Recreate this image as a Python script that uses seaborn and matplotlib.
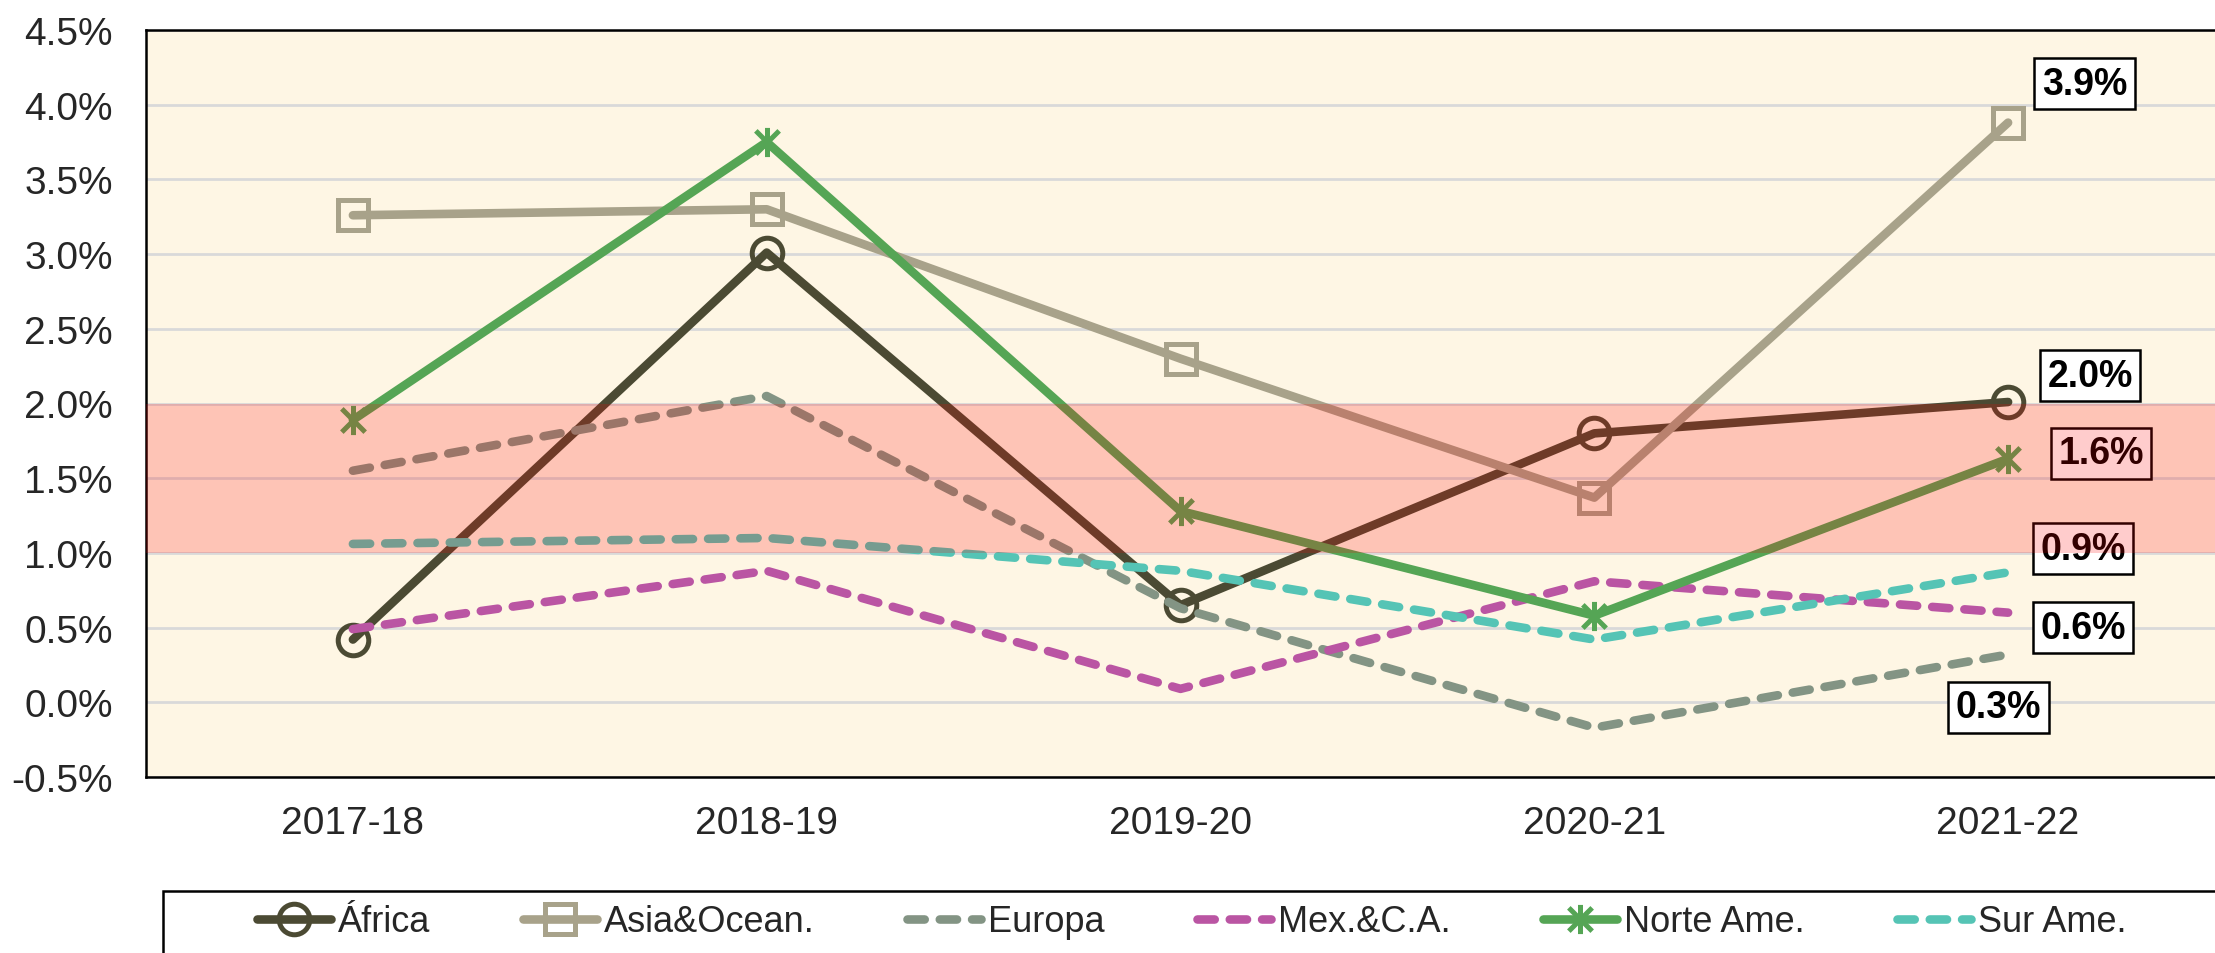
import matplotlib
matplotlib.use('Agg')
import matplotlib.pyplot as plt
import seaborn as sns
from matplotlib.path import Path
from matplotlib.patches import Rectangle
from matplotlib.ticker import FuncFormatter, MultipleLocator

# data (growth, %)
periods = ['2017-18', '2018-19', '2019-20', '2020-21', '2021-22']
africa = [0.42, 3.01, 0.65, 1.80, 2.01]
asia_ocean = [3.26, 3.30, 2.30, 1.37, 3.88]
europa = [1.55, 2.05, 0.63, -0.17, 0.32]
mex_ca = [0.49, 0.88, 0.09, 0.81, 0.60]
norte_ame = [1.89, 3.75, 1.28, 0.58, 1.63]
sur_ame = [1.06, 1.10, 0.88, 0.42, 0.87]
labels = ['África', 'Asia&Ocean.', 'Europa', 'Mex.&C.A.', 'Norte Ame.', 'Sur Ame.']
band_low, band_high = 1.0, 2.0

sns.set_style('white')
plt.rcParams['font.family'] = ['Liberation Sans', 'DejaVu Sans']

# excel-like "star" marker: an X with a vertical bar
star = Path([(-1, -1), (1, 1), (-1, 1), (1, -1), (0, -1.25), (0, 1.25)],
            [Path.MOVETO, Path.LINETO, Path.MOVETO, Path.LINETO, Path.MOVETO, Path.LINETO])

dash = (0, (2.0, 1.75))
series = [
    (africa, '#4B4A33', 'o', '-', 22),
    (asia_ocean, '#A8A28A', 's', '-', 21),
    (europa, '#839484', None, dash, 0),
    (mex_ca, '#BA55A3', None, dash, 0),
    (norte_ame, '#55A555', star, '-', 21),
    (sur_ame, '#55C4B5', None, dash, 0),
]

fig = plt.figure(figsize=(22.15, 9.54), dpi=100)
ax = fig.add_axes([146 / 2215, 1 - 778 / 954, 1 - 146 / 2215, (778 - 31) / 954])
ax.set_facecolor('#FEF6E4')

for (vals, col, mk, ls, ms), lab in zip(series, labels):
    sns.lineplot(x=periods, y=vals, ax=ax, color=col, linewidth=6.2,
                 linestyle=ls, dash_capstyle='round', solid_capstyle='round',
                 marker=mk, markersize=ms, markerfacecolor='none',
                 markeredgecolor=col, markeredgewidth=3.6, label=lab,
                 sort=False, zorder=3)

# end-point value labels (offsets in points, y up)
end_labels = [
    (asia_ocean[-1], (55, 28)),
    (africa[-1], (59, 19)),
    (norte_ame[-1], (67, 4)),
    (sur_ame[-1], (54, 17)),
    (mex_ca[-1], (54, -11)),
    (europa[-1], (-7, -38)),
]
for v, off in end_labels:
    ax.annotate(f'{v:.1f}%', xy=(periods[-1], v), xytext=off,
                textcoords='offset points', ha='center', va='center',
                fontsize=27, fontweight='bold', color='black', zorder=6,
                bbox=dict(boxstyle='square,pad=0.2', fc='white', ec='black', lw=1.8))

# target band drawn on top of everything, as in the original
ax.axhspan(band_low, band_high, color='#FF0000', alpha=0.2, lw=0, zorder=10)

ax.set_xlim(-0.5, len(periods) - 0.5)
ax.set_ylim(-0.5, 4.5)
ax.yaxis.set_major_locator(MultipleLocator(0.5))
ax.yaxis.set_major_formatter(FuncFormatter(lambda v, p: f'{v:.1f}%'))
ax.grid(axis='y', color='#D9D9D9', lw=2)
ax.set_axisbelow(True)
ax.tick_params(axis='y', length=0, pad=24, labelsize=28)
ax.tick_params(axis='x', length=0, pad=20, labelsize=28)
ax.set_xlabel('')
ax.set_ylabel('')
for side in ['top', 'left', 'bottom']:
    ax.spines[side].set_color('black')
    ax.spines[side].set_linewidth(1.8)
ax.spines['right'].set_visible(False)

# legend: frameless, with the box drawn separately
ax.legend(loc='center left', bbox_to_anchor=(257 / 2215, 1 - 923 / 954),
          bbox_transform=fig.transFigure, ncol=6, frameon=False, fontsize=26,
          handlelength=2.05, handletextpad=0.2, columnspacing=2.55,
          borderaxespad=0, borderpad=0)
fig.patches.append(Rectangle((163 / 2215, -0.05), (2215 - 163) / 2215 + 0.01, 0.05 + (954 - 892) / 954,
                             transform=fig.transFigure, fill=False, ec='black', lw=1.8))

fig.savefig('out.png', dpi=100)
